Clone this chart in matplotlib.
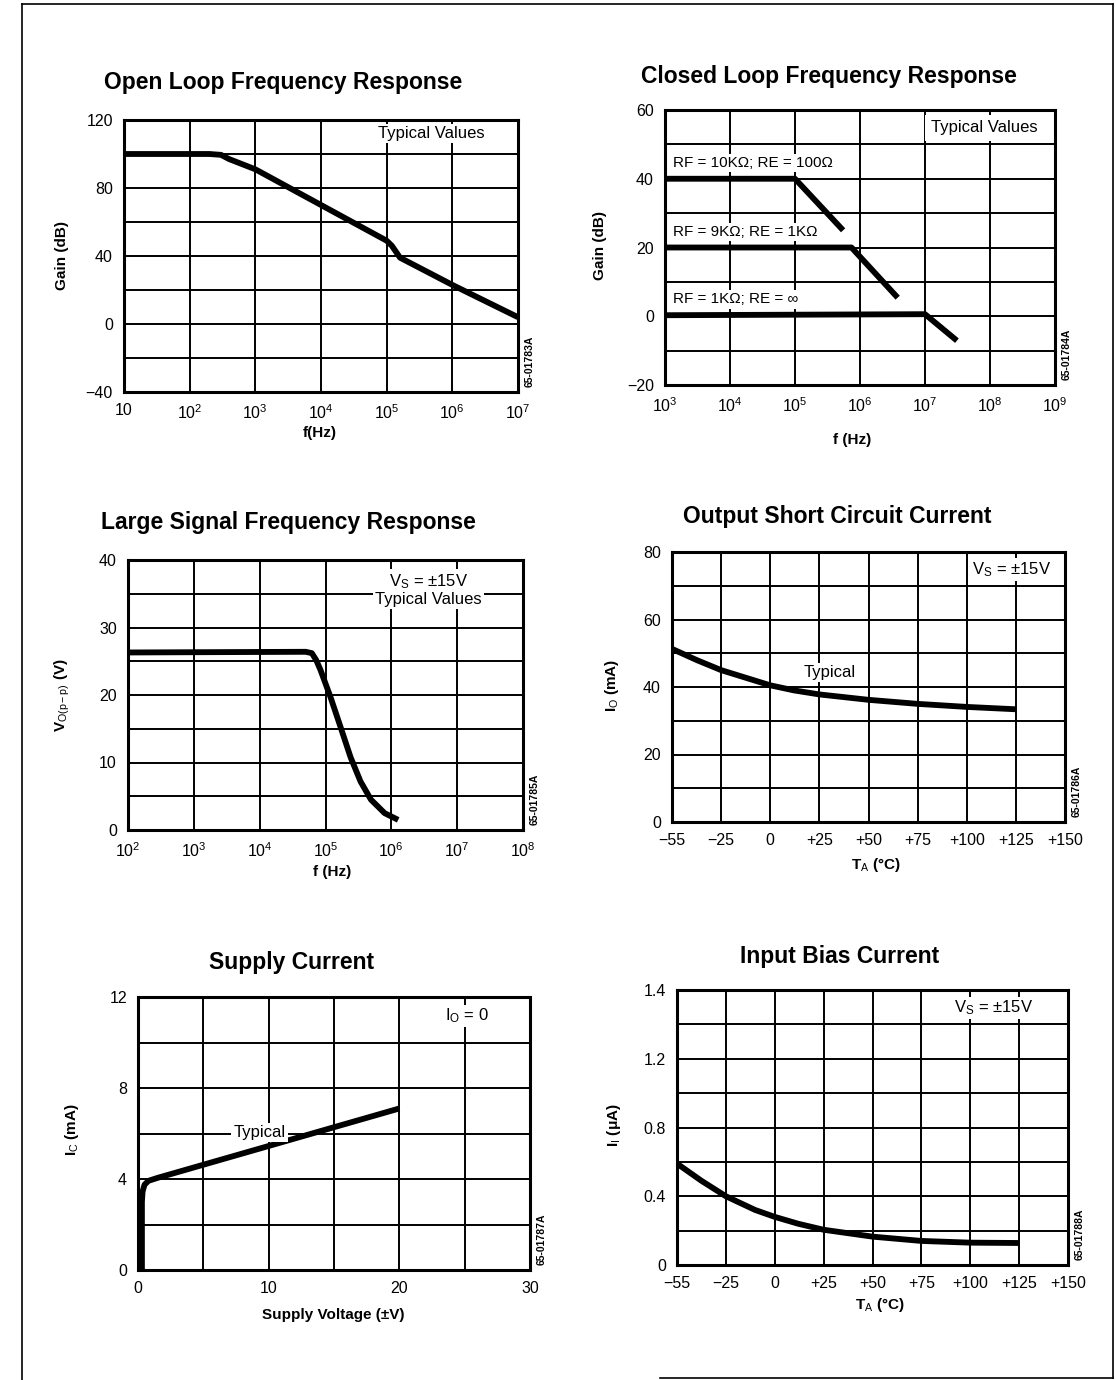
import numpy as np
import matplotlib
matplotlib.use("Agg")
import matplotlib.pyplot as plt
from matplotlib.lines import Line2D

plt.rcParams["font.family"] = ["Liberation Sans", "DejaVu Sans"]
plt.rcParams["mathtext.fontset"] = "custom"
plt.rcParams["mathtext.rm"] = "Liberation Sans"
plt.rcParams["mathtext.it"] = "Liberation Sans"
plt.rcParams["mathtext.bf"] = "Liberation Sans:bold"

# open loop
ol_f = [10, 200, 300, 400, 1e3, 1e4, 1e5, 1.2e5, 1.6e5, 1e6, 1e7]
ol_gain = [100, 100, 99.5, 97, 91, 70, 49, 46, 39, 23, 4]

# closed loop, three gain settings
cl_labels = ["RF = 10KΩ; RE = 100Ω", "RF = 9KΩ; RE = 1KΩ", "RF = 1KΩ; RE = ∞"]
cl_f = [[1e3, 1e5, 5.5e5], [1e3, 7.4e5, 3.8e6], [1e3, 1e7, 3.1e7]]
cl_gain = [[40, 40, 25], [20, 20, 5.4], [0.3, 0.6, -7.1]]

# large signal
ls_f = [1e2, 5.0e4, 6.2e4, 7.2e4, 8.4e4, 1.19e5, 1.7e5, 2.4e5, 3.4e5, 4.9e5, 7.9e5, 1.27e6]
ls_v = [26.3, 26.4, 26.2, 25.2, 23.7, 19.7, 15.2, 10.8, 7.2, 4.5, 2.5, 1.5]

# output short circuit current
temp_ticks = [-55, -25, 0, 25, 50, 75, 100, 125, 150]
temp_labels = ["−55", "−25", "0", "+25", "+50", "+75", "+100", "+125", "+150"]
sc_t = [-55, -40, -25, -10, 0, 12, 25, 50, 75, 100, 125]
sc_i = [51.3, 48.0, 45.0, 42.3, 40.5, 39.0, 37.8, 36.2, 35.0, 34.1, 33.4]

# supply current
su_v = [0.3, 0.3, 0.35, 0.5, 0.8, 1.5, 20]
su_i = [0, 3.0, 3.45, 3.75, 3.92, 4.05, 7.1]

# input bias current
ib_t = [-55, -40, -25, -10, 0, 12, 25, 50, 75, 100, 125]
ib_i = [0.59, 0.49, 0.40, 0.32, 0.28, 0.24, 0.205, 0.165, 0.14, 0.13, 0.128]

W, H = 1116, 1380
fig = plt.figure(figsize=(W / 100, H / 100), dpi=100)
fig.patch.set_facecolor("white")


def px_ax(l, t, r, b):
    return fig.add_axes([l / W, 1 - b / H, (r - l) / W, (b - t) / H])


def style(ax, code):
    for s in ax.spines.values():
        s.set_linewidth(2.2)
        s.set_color("black")
    ax.grid(True, which="both", color="black", linewidth=1.4)
    ax.tick_params(which="both", length=0, labelsize=11.5, pad=8)
    ax.set_axisbelow(True)
    ax.text(1.03, 0.02, code, transform=ax.transAxes, rotation=90, fontsize=7.5,
            fontweight="bold", ha="center", va="bottom")


def ftext(x, y, s, **kw):
    fig.text(x / W, 1 - y / H, s, **kw)


title_kw = dict(fontsize=16.5, fontweight="bold", ha="center", va="center")
lab_kw = dict(fontsize=11, fontweight="bold", ha="center", va="center")
box = dict(facecolor="white", edgecolor="none", pad=1.5)
cw = 4.2

# panel 1
ax = px_ax(124, 120, 518, 392)
ax.set_xscale("log")
ax.plot(ol_f, ol_gain, color="black", lw=cw, solid_capstyle="butt")
ax.set_xlim(10, 1e7)
ax.set_ylim(-40, 120)
ax.set_yticks([-40, 0, 40, 80, 120])
ax.set_yticks(np.arange(-40, 121, 20), minor=True)
ax.set_xticks([10 ** k for k in range(1, 8)])
ax.set_xticklabels(["10"] + [f"$10^{k}$" for k in range(2, 8)])
ax.xaxis.set_minor_locator(matplotlib.ticker.NullLocator())
style(ax, "65-01783A")
ax.text(0.915, 0.95, "Typical Values", transform=ax.transAxes, ha="right", va="center",
        fontsize=12, bbox=box)
ftext(283, 82, "Open Loop Frequency Response", **title_kw)
ftext(62, 256, "Gain (dB)", rotation=90, **lab_kw)
ftext(320, 433, "f(Hz)", **lab_kw)

# panel 2
ax = px_ax(665, 110, 1055, 385)
ax.set_xscale("log")
for fx, gy in zip(cl_f, cl_gain):
    ax.plot(fx, gy, color="black", lw=cw, solid_capstyle="butt")
for fx, gy, lb in zip(cl_f, cl_gain, cl_labels):
    ax.text(1.35e3, gy[0] + 4.6, lb, fontsize=11, va="center", ha="left", bbox=box)
ax.set_xlim(1e3, 1e9)
ax.set_ylim(-20, 60)
ax.set_yticks([-20, 0, 20, 40, 60])
ax.set_yticks(np.arange(-20, 61, 10), minor=True)
ax.set_xticks([10 ** k for k in range(3, 10)])
ax.set_xticklabels([f"$10^{k}$" for k in range(3, 10)])
ax.xaxis.set_minor_locator(matplotlib.ticker.NullLocator())
style(ax, "65-01784A")
ax.text(0.955, 0.935, "Typical Values", transform=ax.transAxes, ha="right", va="center",
        fontsize=12, bbox=dict(facecolor="white", edgecolor="none", pad=4))
ftext(829, 76, "Closed Loop Frequency Response", **title_kw)
ftext(600, 245, "Gain (dB)", rotation=90, **lab_kw)
ftext(852, 440, "f (Hz)", **lab_kw)

# panel 3
ax = px_ax(128, 560, 523, 830)
ax.set_xscale("log")
ax.plot(ls_f, ls_v, color="black", lw=cw, solid_capstyle="butt")
ax.set_xlim(1e2, 1e8)
ax.set_ylim(0, 40)
ax.set_yticks([0, 10, 20, 30, 40])
ax.set_yticks(np.arange(0, 41, 5), minor=True)
ax.set_xticks([10 ** k for k in range(2, 9)])
ax.set_xticklabels([f"$10^{k}$" for k in range(2, 9)])
ax.xaxis.set_minor_locator(matplotlib.ticker.NullLocator())
style(ax, "65-01785A")
ax.text(0.76, 0.89, "V$_\\mathrm{S}$ = ±15V\nTypical Values", transform=ax.transAxes,
        ha="center", va="center", fontsize=12, linespacing=1.05, bbox=box)
ftext(288, 523, "Large Signal Frequency Response", **title_kw)
ftext(62, 695, "V$_\\mathrm{O(p-p)}$ (V)", rotation=90, **lab_kw)
ftext(332, 872, "f (Hz)", **lab_kw)


def temp_scale(ax):
    fwd = lambda x: np.interp(x, temp_ticks, np.arange(len(temp_ticks)))
    inv = lambda i: np.interp(i, np.arange(len(temp_ticks)), temp_ticks)
    ax.set_xscale("function", functions=(fwd, inv))
    ax.set_xlim(temp_ticks[0], temp_ticks[-1])
    ax.set_xticks(temp_ticks)
    ax.set_xticklabels(temp_labels)
    ax.xaxis.set_minor_locator(matplotlib.ticker.NullLocator())


# panel 4
ax = px_ax(672, 552, 1065, 822)
temp_scale(ax)
ax.plot(sc_t, sc_i, color="black", lw=cw, solid_capstyle="butt")
ax.set_ylim(0, 80)
ax.set_yticks([0, 20, 40, 60, 80])
ax.set_yticks(np.arange(0, 81, 10), minor=True)
style(ax, "65-01786A")
ax.text(0.865, 0.935, "V$_\\mathrm{S}$ = ±15V", transform=ax.transAxes, ha="center",
        va="center", fontsize=12, bbox=box)
ax.text(30.5, 44.3, "Typical", ha="center", va="center", fontsize=12, bbox=box)
ftext(837, 517, "Output Short Circuit Current", **title_kw)
ftext(612, 685, "I$_\\mathrm{O}$ (mA)", rotation=90, **lab_kw)
ftext(876, 865, "T$_\\mathrm{A}$ (°C)", **lab_kw)

# panel 5
ax = px_ax(138, 997, 530, 1270)
ax.plot(su_v, su_i, color="black", lw=cw, solid_capstyle="butt", solid_joinstyle="round")
ax.set_xlim(0, 30)
ax.set_ylim(0, 12)
ax.set_xticks([0, 10, 20, 30])
ax.set_xticks(np.arange(0, 31, 5), minor=True)
ax.set_yticks([0, 4, 8, 12])
ax.set_yticks(np.arange(0, 13, 2), minor=True)
style(ax, "65-01787A")
ax.text(0.84, 0.93, "I$_\\mathrm{O}$ = 0", transform=ax.transAxes, ha="center",
        va="center", fontsize=12, bbox=box)
ax.text(9.3, 6.05, "Typical", ha="center", va="center", fontsize=12, bbox=box)
ftext(292, 962, "Supply Current", **title_kw)
ftext(72, 1130, "I$_\\mathrm{C}$ (mA)", rotation=90, **lab_kw)
ftext(333, 1315, "Supply Voltage (±V)", **lab_kw)

# panel 6
ax = px_ax(677, 990, 1068, 1265)
temp_scale(ax)
ax.plot(ib_t, ib_i, color="black", lw=cw, solid_capstyle="butt")
ax.set_ylim(0, 1.6)
ax.set_yticks([0, 0.4, 0.8, 1.2, 1.6])
ax.set_yticklabels(["0", "0.4", "0.8", "1.2", "1.4"])
ax.set_yticks(np.arange(0, 1.61, 0.2), minor=True)
style(ax, "65-01788A")
ax.text(0.81, 0.935, "V$_\\mathrm{S}$ = ±15V", transform=ax.transAxes, ha="center",
        va="center", fontsize=12, bbox=box)
ftext(840, 956, "Input Bias Current", **title_kw)
ftext(614, 1125, "I$_\\mathrm{I}$ (μA)", rotation=90, **lab_kw)
ftext(880, 1305, "T$_\\mathrm{A}$ (°C)", **lab_kw)

# page frame
for xs, ys in [([22, 22], [4, 1380]), ([22, 1113], [4, 4]), ([1113, 1113], [4, 1378]),
               ([660, 1113], [1378, 1378])]:
    fig.add_artist(Line2D([x / W for x in xs], [1 - y / H for y in ys], color="black", lw=1.2))

fig.savefig("out.png", dpi=100)
